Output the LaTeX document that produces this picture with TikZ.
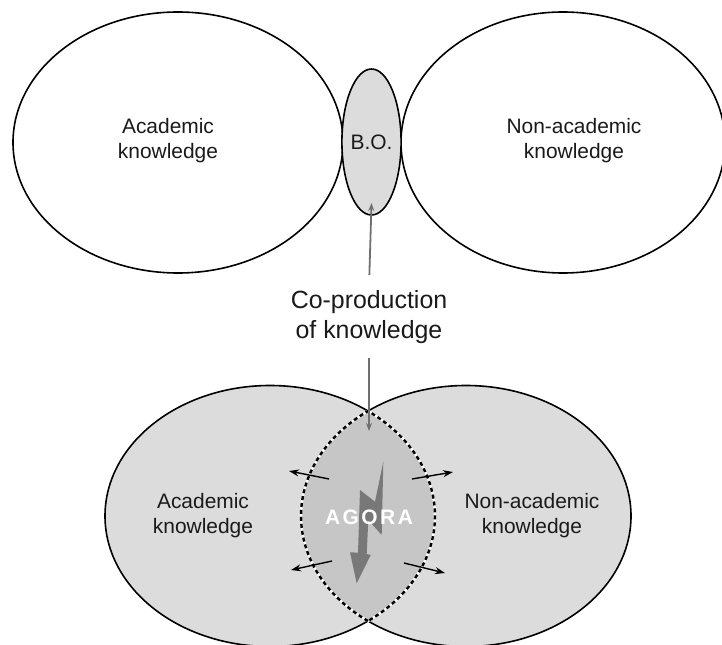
\documentclass[tikz,border=0pt]{standalone}
\usepackage{fontspec}
\setmainfont{Liberation Sans}
\newfontfamily\agorafont[LetterSpace=12]{Liberation Sans}
\usepackage{xcolor}
\usepackage{tikz}
\usetikzlibrary{arrows.meta,shapes.geometric}
\definecolor{ink}{HTML}{1A1A1A}
\definecolor{fieldbg}{HTML}{DCDCDC}
\definecolor{agorabg}{HTML}{C6C6C6}
\definecolor{boltc}{HTML}{787878}
\definecolor{stem}{HTML}{707070}
\tikzset{
  field/.style={ellipse, draw=black, line width=1.6pt, inner sep=0pt,
    minimum width=330bp, minimum height=261bp},
  bonode/.style={ellipse, draw=black, fill=fieldbg, line width=1.6pt, inner sep=0pt,
    minimum width=57bp, minimum height=146bp, text=ink, font=\fontsize{21}{25}\selectfont},
  lab/.style={text=ink, align=center, font=\fontsize{21}{25}\selectfont},
  labl/.style={text=ink, align=center, font=\fontsize{25}{30}\selectfont},
  feed/.style={draw=stem, line width=1.8pt, -{Stealth[length=8bp,width=6bp,fill=ink]}},
  spark/.style={draw=black, line width=1.4pt, -{Stealth[length=10bp,width=7bp]}},
  lens/.style={fill=agorabg, draw=white, line width=2.4pt,
    postaction={draw=black, line width=2.4pt, dash pattern=on 4pt off 3pt}},
}

\begin{document}
\begin{tikzpicture}[x=1bp,y=-1bp]
  \useasboundingbox (0,0) rectangle (722,645);
  \clip (0,0) rectangle (722,645);
  \fill[white] (0,0) rectangle (722,645);

  % apart
  \node[field] (acad) at (178,142.5) {};
  \node[field, minimum width=324bp] (nonacad) at (563,142.5) {};
  \node[bonode] (bo) at (371.5,142) {B.O.};
  \node[lab] (acadlab) at (168,141) {Academic\\knowledge};
  \node[lab] (nonacadlab) at (574,141) {Non-academic\\knowledge};

  \node[labl] (coprod) at (369,317) {Co-production\\of knowledge};

  % together
  \node[field, fill=fieldbg] (acadb) at (270,516) {};
  \node[field, fill=fieldbg] (nonacadb) at (466,516) {};
  \path[lens] (368,621)
    arc[start angle=126.45, end angle=233.55, x radius=165, y radius=130.5]
    arc[start angle=-53.55, end angle=53.55, x radius=165, y radius=130.5] -- cycle;
  \fill[boltc] (383.3,461.7) -- (381.7,535) -- (368.3,520) -- (366.7,554)
    -- (370.7,555) -- (356.7,583.3) -- (350,552.3) -- (358,552.7)
    -- (360,490) -- (375,501.7) -- cycle;
  \node[lab, text=white] (agora) at (369,517) {\agorafont\bfseries AGORA};
  \node[lab] (acadblab) at (203,516) {Academic\\knowledge};
  \node[lab] (nonacadblab) at (532,516) {Non-academic\\knowledge};

  \coordinate (botip) at (371.5,203);
  \coordinate (lenstip) at (369,431);
  \draw[feed, shorten <=12bp] (coprod.north) -- (botip);
  \draw[feed, shorten <=11bp] (coprod.south) -- (lenstip);

  \coordinate (ula) at (329,479);   \coordinate (ulb) at (289,471);
  \coordinate (ura) at (412,479);   \coordinate (urb) at (453,472);
  \coordinate (lla) at (332,561);   \coordinate (llb) at (291,570);
  \coordinate (lra) at (404,563);   \coordinate (lrb) at (445,573);
  \foreach \a/\b in {ula/ulb,ura/urb,lla/llb,lra/lrb}
    \draw[spark] (\a) -- (\b);
\end{tikzpicture}
\end{document}
